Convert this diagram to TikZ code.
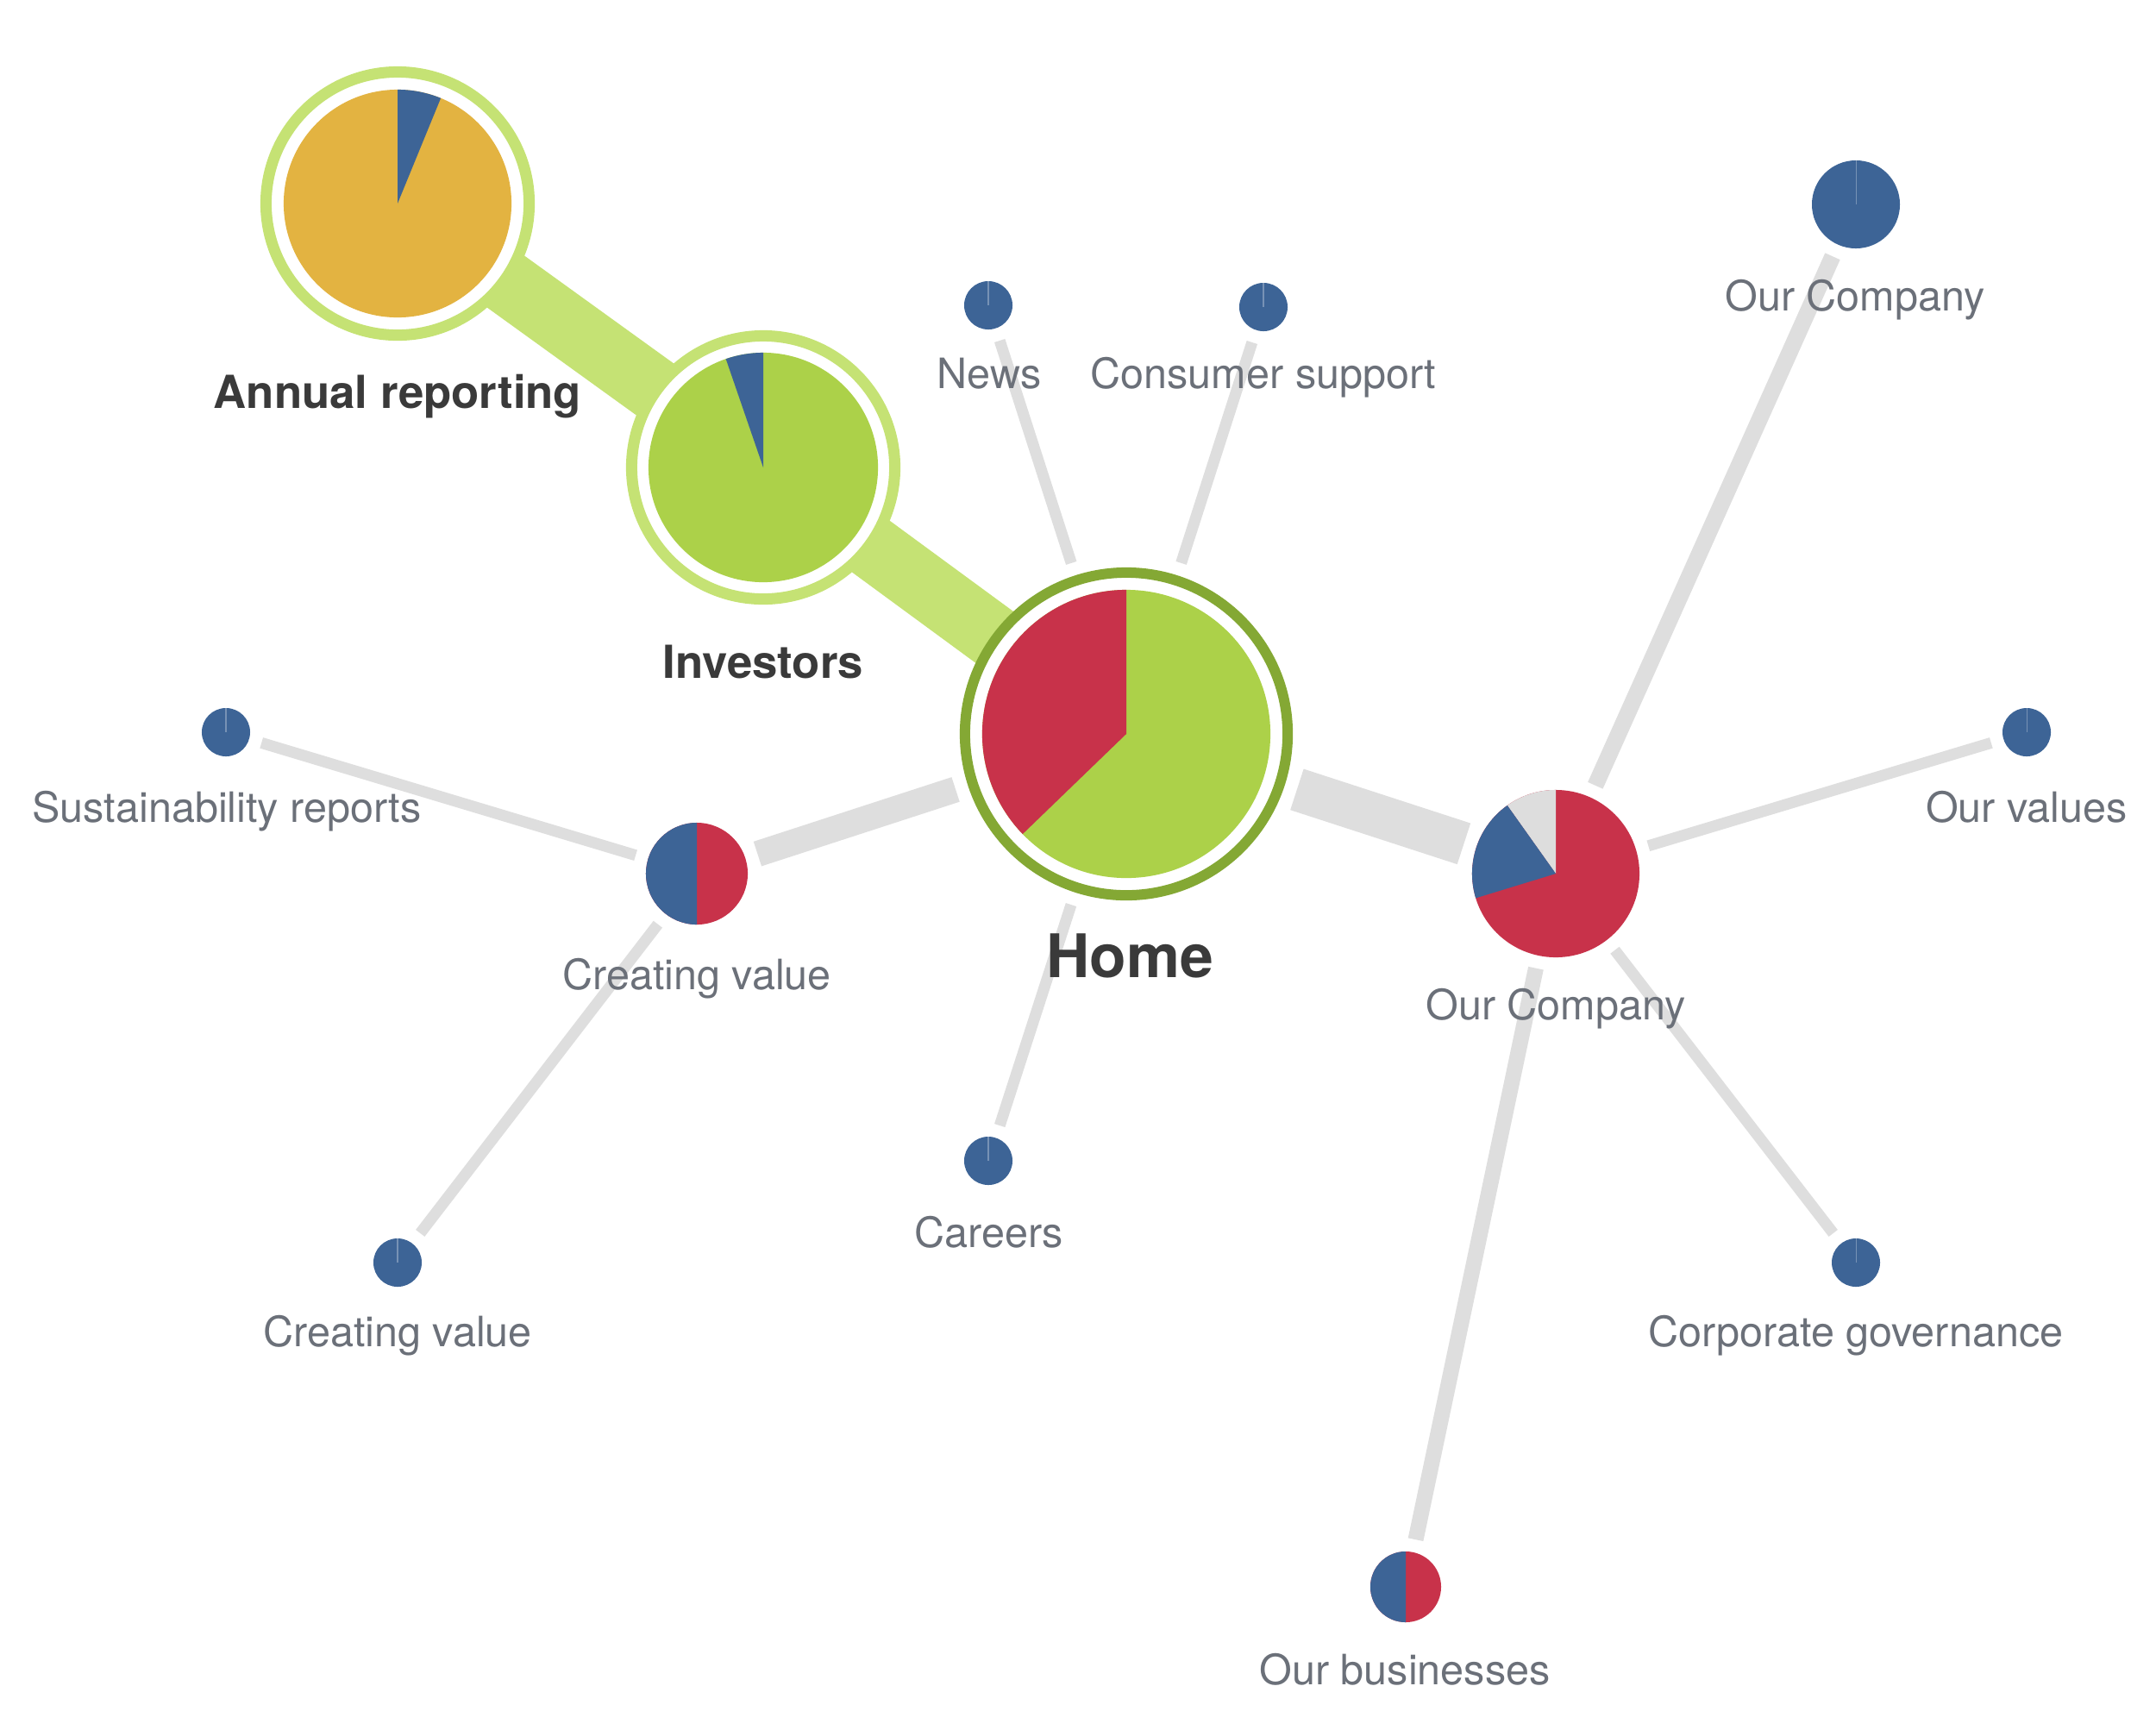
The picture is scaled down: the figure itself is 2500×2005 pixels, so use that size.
\documentclass[tikz,border=0pt]{standalone}
\usepackage{fontspec}
\setmainfont{TeX Gyre Heros}
\definecolor{pieblue}{HTML}{3D6496}
\definecolor{piered}{HTML}{C8324A}
\definecolor{piegreen}{HTML}{ACD149}
\definecolor{pieorange}{HTML}{E3B341}
\definecolor{piegray}{HTML}{DDDDDD}
\definecolor{ringlight}{HTML}{C5E274}
\definecolor{ringdark}{HTML}{84A834}
\definecolor{linkgray}{HTML}{DEDEDE}
\definecolor{labgray}{HTML}{6B7079}
\definecolor{labdark}{HTML}{3A3A3A}
\pgfdeclarelayer{background}
\pgfsetlayers{background,main}
\tikzset{
  link/.style={draw=linkgray, line width=0.13cm, shorten <=0.15cm, shorten >=0.15cm},
  band/.style={draw=ringlight, line width=0.74cm},
  hub/.style={circle, fill=white, draw=ringlight, line width=0.13cm, inner sep=0pt, minimum size=3.05cm},
  pie/.style={circle, fill=piered, inner sep=0pt, outer sep=0pt},
  dot/.style={circle, fill=pieblue, inner sep=0pt, outer sep=0pt, minimum size=0.56cm},
  seam/.style={draw=pieblue!70!white, line width=0.3pt},
  lab/.style={text=labgray, font=\fontsize{13.8}{16}\selectfont, anchor=base, inner sep=0pt},
  boldlab/.style={text=labdark, font=\fontsize{15}{18}\selectfont\bfseries, anchor=base, inner sep=0pt},
}

\begin{document}
\begin{tikzpicture}[x=0.01cm, y=-0.01cm]
  \useasboundingbox (0,0) rectangle (2500,2005);

  % main path
  \node[hub] (ann) at (461,236) {};
  \node[hub] (inv) at (885,542) {};
  \node[hub, draw=ringdark, line width=0.12cm, minimum size=3.74cm] (home) at (1306,851) {};

  % second level
  \node[pie, minimum size=1.18cm] (cvmid) at (808,1013) {};
  \node[pie, minimum size=1.94cm] (ocmid) at (1804,1013) {};

  % leaves
  \node[dot] (news) at (1146,354) {};
  \node[dot] (support) at (1465,356) {};
  \node[dot, minimum size=1.02cm] (octop) at (2152,237) {};
  \node[dot] (sustain) at (262,849) {};
  \node[dot] (values) at (2350,849) {};
  \node[dot] (cvlow) at (461,1464) {};
  \node[dot] (careers) at (1146,1346) {};
  \node[dot] (governance) at (2152,1464) {};
  \node[pie, minimum size=0.82cm] (business) at (1630,1840) {};

  % pies
  \fill[pieorange] (ann.center) circle[radius=1.32cm];
  \fill[pieblue] (ann.center) -- ++(90:1.32cm) arc[start angle=90, end angle=67.7, radius=1.32cm] -- cycle;
  \fill[piegreen] (inv.center) circle[radius=1.33cm];
  \fill[pieblue] (inv.center) -- ++(90:1.33cm) arc[start angle=90, end angle=109, radius=1.33cm] -- cycle;
  \fill[piegreen] (home.center) circle[radius=1.67cm];
  \fill[piered] (home.center) -- ++(90:1.67cm) arc[start angle=90, end angle=224, radius=1.67cm] -- cycle;
  \fill[pieblue] (cvmid.center) -- (cvmid.north) arc[start angle=90, end angle=270, radius=0.59cm] -- cycle;
  \fill[piegray] (ocmid.center) -- (ocmid.north) arc[start angle=90, end angle=125.4, radius=0.97cm] -- cycle;
  \fill[pieblue] (ocmid.center) -- ++(125.4:0.97cm) arc[start angle=125.4, end angle=197, radius=0.97cm] -- cycle;
  \fill[pieblue] (business.center) -- (business.north) arc[start angle=90, end angle=270, radius=0.41cm] -- cycle;

  \draw[seam] (news.center) -- (news.north);
  \draw[seam] (support.center) -- (support.north);
  \draw[seam] (octop.center) -- (octop.north);
  \draw[seam] (sustain.center) -- (sustain.north);
  \draw[seam] (values.center) -- (values.north);
  \draw[seam] (cvlow.center) -- (cvlow.north);
  \draw[seam] (careers.center) -- (careers.north);
  \draw[seam] (governance.center) -- (governance.north);

  % connectors
  \begin{pgfonlayer}{background}
    \draw[band] (ann.center) -- (inv.center);
    \draw[band] (inv.center) -- (home.center);
    \draw[link, line width=0.30cm] (home) -- (cvmid);
    \draw[link, line width=0.50cm] (home) -- (ocmid);
    \draw[link] (home) -- (news);
    \draw[link] (home) -- (support);
    \draw[link] (home) -- (careers);
    \draw[link] (cvmid) -- (sustain);
    \draw[link] (cvmid) -- (cvlow);
    \draw[link, line width=0.19cm] (ocmid) -- (octop);
    \draw[link] (ocmid) -- (values);
    \draw[link] (ocmid) -- (governance);
    \draw[link, line width=0.18cm] (ocmid) -- (business);
  \end{pgfonlayer}

  % labels
  \node[boldlab] (annlab) at (461,473) {Annual reporting};
  \node[boldlab] (invlab) at (885,786) {Investors};
  \node[boldlab, font=\fontsize{19.8}{24}\selectfont\bfseries] (homelab) at (1310,1133) {Home};
  \node[lab] (cvmidlab) at (808,1147) {Creating value};
  \node[lab] (ocmidlab) at (1804,1182) {Our Company};
  \node[lab] (newslab) at (1147,450) {News};
  \node[lab] (supportlab) at (1465,450) {Consumer support};
  \node[lab] (octoplab) at (2151,360) {Our Company};
  \node[lab] (valueslab) at (2350,953) {Our values};
  \node[lab] (sustainlab) at (263,953) {Sustainability reports};
  \node[lab] (cvlowlab) at (461,1561) {Creating value};
  \node[lab] (careerslab) at (1147,1446) {Careers};
  \node[lab] (governancelab) at (2152,1561) {Corporate governance};
  \node[lab] (businesslab) at (1629,1953) {Our businesses};
\end{tikzpicture}
\end{document}
